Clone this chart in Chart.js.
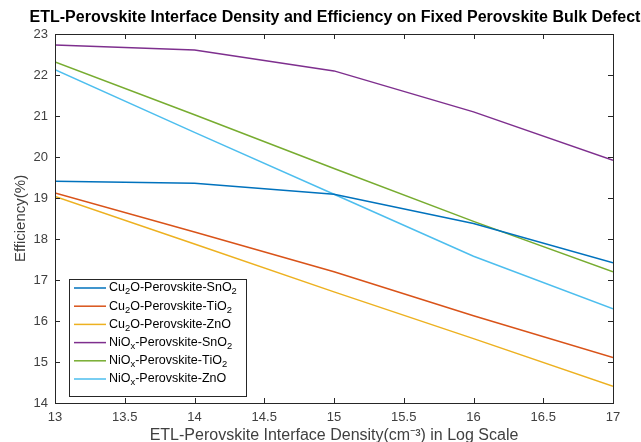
<!DOCTYPE html>
<html>
<head>
<meta charset="utf-8">
<script src="https://cdn.jsdelivr.net/npm/chart.js@4/dist/chart.umd.min.js"></script>
<style>
  html, body { margin: 0; padding: 0; background: #fff; }
  canvas { display: block; }
</style>
</head>
<body>
<canvas id="c" width="641" height="442"></canvas>
<script>
// Log10 of the ETL/perovskite interface defect density (cm^-3)
const densities = [13, 14, 15, 16, 17];

// Power conversion efficiency (%) for each device stack
const cu2oSnO2 = [19.41, 19.36, 19.09, 18.38, 17.42];
const cu2oTiO2 = [19.12, 18.17, 17.20, 16.13, 15.11];
const cu2oZnO  = [19.04, 17.88, 16.71, 15.57, 14.41];
const nioxSnO2 = [22.73, 22.61, 22.10, 21.10, 19.92];
const nioxTiO2 = [22.32, 21.03, 19.72, 18.43, 17.20];
const nioxZnO  = [22.13, 20.60, 19.09, 17.58, 16.30];

const seriesNames = [
  'Cu₂O-Perovskite-SnO₂',
  'Cu₂O-Perovskite-TiO₂',
  'Cu₂O-Perovskite-ZnO',
  'NiOₓ-Perovskite-SnO₂',
  'NiOₓ-Perovskite-TiO₂',
  'NiOₓ-Perovskite-ZnO'
];
const seriesValues = [cu2oSnO2, cu2oTiO2, cu2oZnO, nioxSnO2, nioxTiO2, nioxZnO];
const seriesColors = ['#0072BD', '#D95319', '#EDB120', '#7E2F8E', '#77AC30', '#4DBEEE'];

const xTicksRange = { min: 13, max: 17, step: 0.5 };
const yTicksRange = { min: 14, max: 23, step: 1 };

const titleText = 'ETL-Perovskite Interface Density and Efficiency on Fixed Perovskite Bulk Defect';
const xTitle = 'ETL-Perovskite Interface Density(cm⁻³) in Log Scale';
const yTitle = 'Efficiency(%)';

const FONT = '"Liberation Sans", Arial, Helvetica, sans-serif';
const AXIS_COLOR = '#262626';
const TEXT_COLOR = '#404040';

// Subscript glyphs are drawn as smaller, lowered characters in the legend
const SUB = { '₂': '2', 'ₓ': 'x', '₃': '3' };

function drawRichText(ctx, text, x, y, size) {
  let cx = x;
  for (const ch of text) {
    if (SUB[ch]) {
      ctx.font = `${size * 0.75}px ${FONT}`;
      ctx.fillText(SUB[ch], cx, y + size * 0.3);
      cx += ctx.measureText(SUB[ch]).width;
    } else {
      ctx.font = `${size}px ${FONT}`;
      ctx.fillText(ch, cx, y);
      cx += ctx.measureText(ch).width;
    }
  }
  return cx - x;
}

// Box around the axes with inward tick marks on all four sides, plus title and legend
const framePlugin = {
  id: 'frame',
  afterDatasetsDraw(chart) {
    const { ctx, chartArea: a, scales: { x, y } } = chart;
    ctx.save();
    ctx.strokeStyle = AXIS_COLOR;
    ctx.lineWidth = 1;
    ctx.beginPath();
    const tl = 5;
    x.ticks.forEach(t => {
      const px = Math.round(x.getPixelForValue(t.value)) + 0.5;
      ctx.moveTo(px, a.bottom); ctx.lineTo(px, a.bottom - tl);
      ctx.moveTo(px, a.top); ctx.lineTo(px, a.top + tl);
    });
    y.ticks.forEach(t => {
      const py = Math.round(y.getPixelForValue(t.value)) + 0.5;
      ctx.moveTo(a.left, py); ctx.lineTo(a.left + tl, py);
      ctx.moveTo(a.right, py); ctx.lineTo(a.right - tl, py);
    });
    ctx.stroke();
    ctx.strokeRect(Math.round(a.left) + 0.5, Math.round(a.top) + 0.5,
                   Math.round(a.right - a.left), Math.round(a.bottom - a.top));

    // Title
    ctx.fillStyle = '#000';
    ctx.font = `bold 16px ${FONT}`;
    ctx.textAlign = 'center';
    ctx.textBaseline = 'middle';
    ctx.fillText(titleText, (a.left + a.right) / 2 + 1, 18);

    // Legend
    const lx = a.left + 14, ly = 279, lw = 177, lh = 117;
    ctx.fillStyle = '#fff';
    ctx.fillRect(lx, ly, lw, lh);
    ctx.strokeStyle = AXIS_COLOR;
    ctx.strokeRect(lx + 0.5, ly + 0.5, lw, lh);
    ctx.textAlign = 'left';
    ctx.textBaseline = 'middle';
    chart.data.datasets.forEach((ds, i) => {
      const ry = ly + 9 + i * 18.2;
      ctx.strokeStyle = ds.borderColor;
      ctx.lineWidth = 1.5;
      ctx.beginPath();
      ctx.moveTo(lx + 5, ry); ctx.lineTo(lx + 37, ry);
      ctx.stroke();
      ctx.fillStyle = '#000';
      drawRichText(ctx, ds.label, lx + 40, ry, 12.5);
    });
    ctx.restore();
  }
};

const datasets = seriesNames.map((name, i) => ({
  label: name,
  data: densities.map((d, j) => ({ x: d, y: seriesValues[i][j] })),
  borderColor: seriesColors[i],
  backgroundColor: seriesColors[i],
  borderWidth: 1.5,
  pointRadius: 0,
  tension: 0,
  fill: false
}));

new Chart(document.getElementById('c'), {
  type: 'line',
  data: { datasets },
  plugins: [framePlugin],
  options: {
    responsive: false,
    animation: false,
    devicePixelRatio: 1,
    layout: { padding: { top: 34, right: 28, left: 0, bottom: 0 } },
    plugins: {
      legend: { display: false },
      title: { display: false },
      tooltip: { enabled: false }
    },
    scales: {
      x: {
        type: 'linear',
        min: xTicksRange.min,
        max: xTicksRange.max,
        grid: { display: false, drawTicks: false },
        border: { display: false },
        ticks: {
          stepSize: xTicksRange.step, font: { family: FONT, size: 13 }, color: TEXT_COLOR, padding: 7, maxRotation: 0,
          callback: v => String(Number(v.toFixed(1)))
        },
        title: { display: true, text: xTitle, font: { family: FONT, size: 16 }, color: TEXT_COLOR, padding: { top: 0, bottom: -3 } },
        afterFit(scale) { scale.height = 39; }
      },
      y: {
        type: 'linear',
        min: yTicksRange.min,
        max: yTicksRange.max,
        grid: { display: false, drawTicks: false },
        border: { display: false },
        ticks: { stepSize: yTicksRange.step, font: { family: FONT, size: 13 }, color: TEXT_COLOR, padding: 7 },
        title: { display: true, text: yTitle, font: { family: FONT, size: 15 }, color: TEXT_COLOR, padding: { top: 12, bottom: 0 } },
        afterFit(scale) { scale.width = 55; }
      }
    }
  }
});
</script>
</body>
</html>
